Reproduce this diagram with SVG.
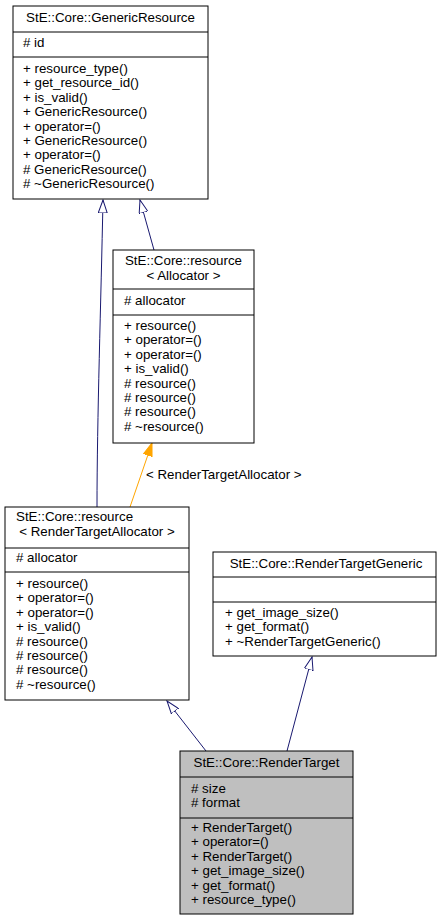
<svg xmlns="http://www.w3.org/2000/svg" width="440" height="921" viewBox="0 0 440 921">
<defs>
<style>
text{font-family:"Liberation Sans",Arial,Helvetica,sans-serif;font-size:13.33px;fill:#000}
.box{fill:#fff;stroke:#000;stroke-width:1}
.cur{fill:#bfbfbf;stroke:#000;stroke-width:1}
.sep{stroke:#000;stroke-width:1}
.c{text-anchor:middle}
.inh{fill:none;stroke:#191970;stroke-width:1}
.tpl{fill:none;stroke:#ffa500;stroke-width:1}
</style>
<marker id="hollow" markerUnits="userSpaceOnUse" viewBox="0 -5 14 10" refX="13" refY="0" markerWidth="14" markerHeight="10" orient="auto">
<path d="M0,-4.5 L13,0 L0,4.5 Z" fill="#fff" stroke="#191970" stroke-width="1"/>
</marker>
<marker id="solid" markerUnits="userSpaceOnUse" viewBox="0 -5 14 10" refX="13" refY="0" markerWidth="14" markerHeight="10" orient="auto">
<path d="M0,-4.5 L13,0 L0,4.5 Z" fill="#ffa500" stroke="#ffa500" stroke-width="1"/>
</marker>
</defs>
<rect width="440" height="921" fill="#fff"/>

<g id="connectors">
<path class="inh" d="M97,507 C97,420 101,300 103,200" marker-end="url(#hollow)"/>
<path class="inh" d="M154,250 L140,200" marker-end="url(#hollow)"/>
<path class="tpl" d="M130,507 L152,443" marker-end="url(#solid)"/>
<text x="146" y="479">&lt; RenderTargetAllocator &gt;</text>
<path class="inh" d="M206,751 L167,701" marker-end="url(#hollow)"/>
<path class="inh" d="M287,751 L312,657" marker-end="url(#hollow)"/>
</g>

<g id="GenericResource">
<rect class="box" x="13" y="6" width="195" height="193"/>
<line class="sep" x1="13" y1="32" x2="208" y2="32"/>
<line class="sep" x1="13" y1="57" x2="208" y2="57"/>
<text class="c" x="110.5" y="22">StE::Core::GenericResource</text>
<text x="23" y="47"># id</text>
<text x="23" y="73">+ resource_type()</text>
<text x="23" y="87.4">+ get_resource_id()</text>
<text x="23" y="101.8">+ is_valid()</text>
<text x="23" y="116.2">+ GenericResource()</text>
<text x="23" y="130.6">+ operator=()</text>
<text x="23" y="145">+ GenericResource()</text>
<text x="23" y="159.4">+ operator=()</text>
<text x="23" y="173.8"># GenericResource()</text>
<text x="23" y="188.2"># ~GenericResource()</text>
</g>

<g id="resourceAllocator">
<rect class="box" x="113" y="250" width="141" height="193"/>
<line class="sep" x1="113" y1="289" x2="254" y2="289"/>
<line class="sep" x1="113" y1="315" x2="254" y2="315"/>
<text class="c" x="183.5" y="265">StE::Core::resource</text>
<text class="c" x="183.5" y="280">&lt; Allocator &gt;</text>
<text x="124" y="305"># allocator</text>
<text x="124" y="330">+ resource()</text>
<text x="124" y="344.4">+ operator=()</text>
<text x="124" y="358.8">+ operator=()</text>
<text x="124" y="373.2">+ is_valid()</text>
<text x="124" y="387.6"># resource()</text>
<text x="124" y="402"># resource()</text>
<text x="124" y="416.4"># resource()</text>
<text x="124" y="430.8"># ~resource()</text>
</g>

<g id="resourceRenderTargetAllocator">
<rect class="box" x="5" y="507" width="184" height="193"/>
<line class="sep" x1="5" y1="548" x2="189" y2="548"/>
<line class="sep" x1="5" y1="572" x2="189" y2="572"/>
<text x="16" y="521">StE::Core::resource</text>
<text class="c" x="97" y="536">&lt; RenderTargetAllocator &gt;</text>
<text x="16" y="562"># allocator</text>
<text x="16" y="588">+ resource()</text>
<text x="16" y="602.4">+ operator=()</text>
<text x="16" y="616.8">+ operator=()</text>
<text x="16" y="631.2">+ is_valid()</text>
<text x="16" y="645.6"># resource()</text>
<text x="16" y="660"># resource()</text>
<text x="16" y="674.4"># resource()</text>
<text x="16" y="688.8"># ~resource()</text>
</g>

<g id="RenderTargetGeneric">
<rect class="box" x="213" y="552" width="223" height="104"/>
<line class="sep" x1="213" y1="577" x2="436" y2="577"/>
<line class="sep" x1="213" y1="602" x2="436" y2="602"/>
<text class="c" x="326" y="568">StE::Core::RenderTargetGeneric</text>
<text x="225" y="617">+ get_image_size()</text>
<text x="225" y="631.4">+ get_format()</text>
<text x="225" y="645.8">+ ~RenderTargetGeneric()</text>
</g>

<g id="RenderTarget">
<rect class="cur" x="180" y="751" width="173" height="163"/>
<line class="sep" x1="180" y1="777" x2="353" y2="777"/>
<line class="sep" x1="180" y1="818" x2="353" y2="818"/>
<text class="c" x="266.5" y="767">StE::Core::RenderTarget</text>
<text x="191" y="793"># size</text>
<text x="191" y="807"># format</text>
<text x="191" y="832">+ RenderTarget()</text>
<text x="191" y="846.4">+ operator=()</text>
<text x="191" y="860.8">+ RenderTarget()</text>
<text x="191" y="875.2">+ get_image_size()</text>
<text x="191" y="889.6">+ get_format()</text>
<text x="191" y="904">+ resource_type()</text>
</g>
</svg>
